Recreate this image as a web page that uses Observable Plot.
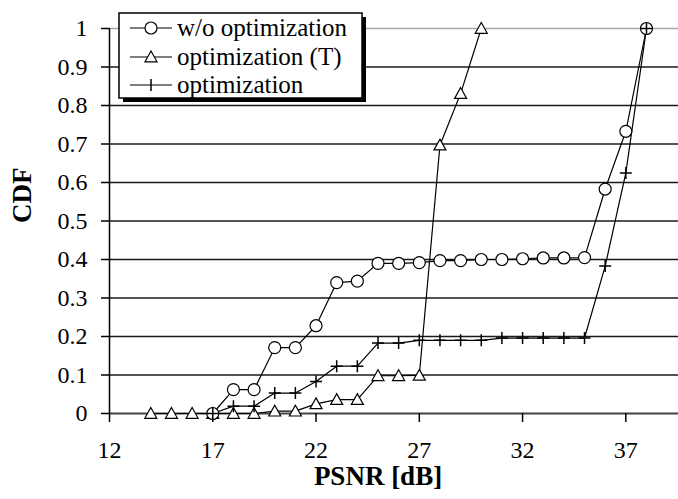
<!DOCTYPE html>
<html><head><meta charset="utf-8">
<script src="https://cdn.jsdelivr.net/npm/d3@7"></script>
<script src="https://cdn.jsdelivr.net/npm/@observablehq/plot@0.6"></script>
<style>
body{margin:0;background:#fff;}
#chart svg{display:block;}
</style>
</head><body><div id="chart"></div>
<script>
// Series: w/o optimization (circles)
const psnrNoOpt = [17,18,19,20,21,22,23,24,25,26,27,28,29,30,31,32,33,34,35,36,37,38];
const cdfNoOpt  = [0,0.062,0.062,0.171,0.171,0.228,0.34,0.344,0.39,0.39,0.392,0.397,0.397,0.4,0.4,0.402,0.404,0.404,0.405,0.583,0.733,1.0];
// Series: optimization (T) (triangles)
const psnrOptT = [14,15,16,17,18,19,20,21,22,23,24,25,26,27,28,29,30];
const cdfOptT  = [0,0,0,0,0,0,0.006,0.006,0.025,0.036,0.036,0.098,0.098,0.099,0.697,0.831,1.0];
// Series: optimization (plus)
const psnrOpt = [17,18,19,20,21,22,23,24,25,26,27,28,29,30,31,32,33,34,35,36,37,38];
const cdfOpt  = [0,0.019,0.019,0.053,0.053,0.083,0.123,0.123,0.183,0.183,0.19,0.19,0.19,0.19,0.196,0.196,0.196,0.196,0.196,0.383,0.625,1.0];

const seriesNames = ["w/o optimization", "optimization (T)", "optimization"];
const xTicks = [12,17,22,27,32,37];
const yTicks = [0,0.1,0.2,0.3,0.4,0.5,0.6,0.7,0.8,0.9,1];
const yGrid = [0.1,0.2,0.3,0.4,0.5,0.6,0.7,0.8,0.9];
const xLabel = "PSNR [dB]";
const yLabel = "CDF";

const toRows = (xs, ys) => xs.map((x, i) => ({x, y: ys[i]}));
const dataA = toRows(psnrNoOpt, cdfNoOpt);
const dataT = toRows(psnrOptT, cdfOptT);
const dataP = toRows(psnrOpt, cdfOpt);

const triSym = {draw(ctx, size){ const r = Math.sqrt(size/Math.PI); ctx.moveTo(0,-r); ctx.lineTo(r, r*0.8); ctx.lineTo(-r, r*0.8); ctx.closePath(); }};
const plusSym = {draw(ctx, size){ const r = Math.sqrt(size/Math.PI); ctx.moveTo(-r,0); ctx.lineTo(r,0); ctx.moveTo(0,-r); ctx.lineTo(0,r); }};

const serif = "Liberation Serif";

const chart = Plot.plot({
  width: 678, height: 499,
  marginLeft: 109, marginRight: 0, marginTop: 28, marginBottom: 86,
  style: {fontFamily: serif, fontSize: "24px", color: "#000", background: "#fff"},
  x: {domain: [12, 39.55]},
  y: {domain: [0, 1]},
  marks: [
    Plot.ruleY(yGrid, {stroke: "#1a1a1a", strokeWidth: 1.5}),
    Plot.ruleY([1], {stroke: "#a8a8a8", strokeWidth: 1.5}),
    Plot.ruleY([0], {stroke: "#444", strokeWidth: 2}),
    Plot.ruleX([12], {y1: 0, y2: 1, stroke: "#000", strokeWidth: 1.5}),
    Plot.axisY({ticks: yTicks, tickSize: 8, tickPadding: 14, tickFormat: d => String(+d.toFixed(1)), label: null, fontSize: 24, fontFamily: serif, strokeWidth: 1.5}),
    Plot.axisX({ticks: xTicks, tickSize: 9, tickPadding: 18, tickFormat: d => String(d), label: null, fontSize: 24, fontFamily: serif, strokeWidth: 1.5}),
    Plot.line(dataA, {x: "x", y: "y", stroke: "#000", strokeWidth: 1.2}),
    Plot.line(dataT, {x: "x", y: "y", stroke: "#000", strokeWidth: 1.2}),
    Plot.line(dataP, {x: "x", y: "y", stroke: "#000", strokeWidth: 1.2}),
    Plot.dot(dataT, {x: "x", y: "y", symbol: triSym, r: 6, fill: "#fff", stroke: "#000", strokeWidth: 1.2}),
    Plot.dot(dataA, {x: "x", y: "y", symbol: "circle", r: 6, fill: "#fff", stroke: "#000", strokeWidth: 1.2}),
    Plot.dot(dataP, {x: "x", y: "y", symbol: plusSym, r: 6, fill: "none", stroke: "#000", strokeWidth: 1.5}),
    Plot.text([yLabel], {frameAnchor: "left", dx: -87, dy: 2, rotate: -90, fontWeight: "bold", fontSize: 27, fontFamily: serif, fill: "#000"}),
    Plot.text([xLabel], {frameAnchor: "bottom", dx: -16, dy: 71, fontWeight: "bold", fontSize: 27, fontFamily: serif, fill: "#000"})
  ]
});
document.getElementById("chart").appendChild(chart);

// Legend (boxed, with drop shadow) drawn into the SVG
const svg = d3.select(chart);
const lg = svg.append("g").attr("class", "legend").attr("text-anchor", "start");
const bx = 119, by = 13, bw = 243, bh = 85;
lg.append("rect").attr("x", bx + 4).attr("y", by + 4).attr("width", bw).attr("height", bh).attr("fill", "#000");
lg.append("rect").attr("x", bx).attr("y", by).attr("width", bw).attr("height", bh).attr("fill", "#fff").attr("stroke", "#000").attr("stroke-width", 1.5);
const rowY = [28, 57, 85];
const markers = ["circle", "tri", "plus"];
seriesNames.forEach((name, i) => {
  const y = rowY[i];
  lg.append("line").attr("x1", 130).attr("x2", 172).attr("y1", y).attr("y2", y).attr("stroke", "#000").attr("stroke-width", 1.2);
  if (markers[i] === "circle") {
    lg.append("circle").attr("cx", 151).attr("cy", y).attr("r", 6).attr("fill", "#fff").attr("stroke", "#000").attr("stroke-width", 1.2);
  } else if (markers[i] === "tri") {
    lg.append("path").attr("d", `M151,${y-6}L157,${y+4.8}L145,${y+4.8}Z`).attr("fill", "#fff").attr("stroke", "#000").attr("stroke-width", 1.2);
  } else {
    lg.append("path").attr("d", `M151,${y-6}L151,${y+6}`).attr("stroke", "#000").attr("stroke-width", 1.5);
  }
  lg.append("text").attr("x", 177).attr("y", y).attr("dy", "0.32em").attr("text-anchor", "start")
    .attr("font-family", serif).attr("font-size", 25).attr("fill", "#000").text(name);
});
</script>
</body></html>
